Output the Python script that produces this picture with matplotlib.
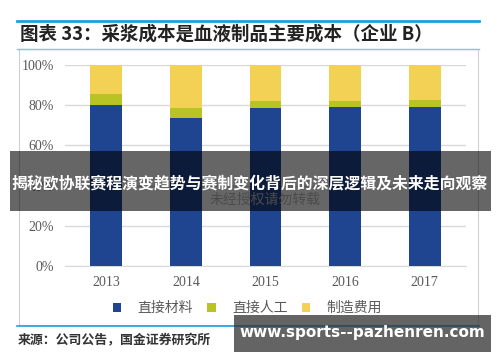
import matplotlib
matplotlib.use('Agg')
import matplotlib.pyplot as plt
import numpy as np
from matplotlib.patches import Rectangle
from matplotlib.lines import Line2D

plt.rcParams['font.family'] = ['Noto Sans CJK SC', 'DejaVu Sans']

years = ['2013', '2014', '2015', '2016', '2017']
materials = [80.0, 73.5, 78.8, 78.9, 79.3]
labour = [5.6, 5.3, 3.4, 3.3, 3.4]
overhead = [14.4, 21.2, 17.8, 17.8, 17.3]
series_names = ['直接材料', '直接人工', '制造费用']
series_colors = ['#1F4591', '#B8C424', '#F2D155']
yticks = [0, 20, 40, 60, 80, 100]

W, H = 500, 362
fig = plt.figure(figsize=(W / 100, H / 100), dpi=100)


def fx(px):
    return px / W


def fy(py):
    return 1 - py / H


# title block
fig.add_artist(Line2D([fx(17), fx(479)], [fy(20.5), fy(20.5)], color='#1AA0E0', lw=2))
fig.add_artist(Line2D([fx(17), fx(479)], [fy(49), fy(49)], color='#7CC5EC', lw=1))
fig.text(fx(20), fy(34), '图表 33：采浆成本是血液制品主要成本（企业 B）',
         fontsize=13.3, fontweight='bold', color='#222222', va='center')

# chart frame
fig.add_artist(Rectangle((fx(19), fy(325)), fx(459), 276 / H, fill=False,
                         edgecolor='#D0D0D0', lw=0.8))
fig.add_artist(Line2D([fx(17), fx(479)], [fy(326), fy(326)], color='#1AA0E0', lw=1.2))

ax = fig.add_axes([fx(65), fy(266), fx(401), 201 / H])
x = np.arange(len(years))
bottom = np.zeros(len(years))
for vals, name, c in zip([materials, labour, overhead], series_names, series_colors):
    ax.bar(x, vals, width=0.4, bottom=bottom, color=c, label=name, zorder=3)
    bottom += np.array(vals)

ax.set_xlim(-0.52, 4.52)
ax.set_ylim(0, 100)
ax.set_yticks(yticks)
ax.set_yticklabels([f'{t}%' for t in yticks])
ax.set_xticks(x)
ax.set_xticklabels(years)
for lab in ax.get_xticklabels() + ax.get_yticklabels():
    lab.set_family('Liberation Serif')
    lab.set_fontsize(10)
    lab.set_color('#595959')
ax.tick_params(length=0, pad=7)
ax.tick_params(axis='y', pad=8)
ax.grid(axis='y', color='#D9D9D9', lw=1, zorder=0)
for s in ['top', 'right', 'left']:
    ax.spines[s].set_visible(False)
ax.spines['bottom'].set_color('#D9D9D9')

ax.legend(loc='center', bbox_to_anchor=(0.455, -0.21), ncol=3, frameon=False,
          fontsize=10, labelcolor='#595959', handlelength=0.6, handleheight=0.6,
          columnspacing=1.0, handletextpad=1.2)

fig.text(fx(18), fy(340), '来源：公司公告，国金证券研究所', fontsize=9.3,
         fontweight='bold', color='#333333', va='center')

# faint watermark
fig.text(fx(265), fy(200), '未经授权请勿转载', fontsize=10, color='#BBBBBB',
         ha='center', va='center')

# overlay banners
fig.add_artist(Rectangle((fx(10), fy(211)), fx(481), 60 / H, color='black',
                         alpha=0.6, lw=0, zorder=10))
fig.text(fx(250), fy(183), '揭秘欧协联赛程演变趋势与赛制变化背后的深层逻辑及未来走向观察',
         fontsize=11.45, fontweight='bold', color='white', ha='center', va='center', zorder=11)

fig.add_artist(Rectangle((fx(234), fy(352)), fx(257), 37 / H, color='#303030',
                         alpha=0.75, lw=0, zorder=10))
fig.text(fx(362), fy(333), 'www.sports--pazhenren.com', fontsize=11, fontweight='bold',
         color='white', ha='center', va='center', zorder=11, family='DejaVu Sans')

fig.savefig('out.png', dpi=100)
